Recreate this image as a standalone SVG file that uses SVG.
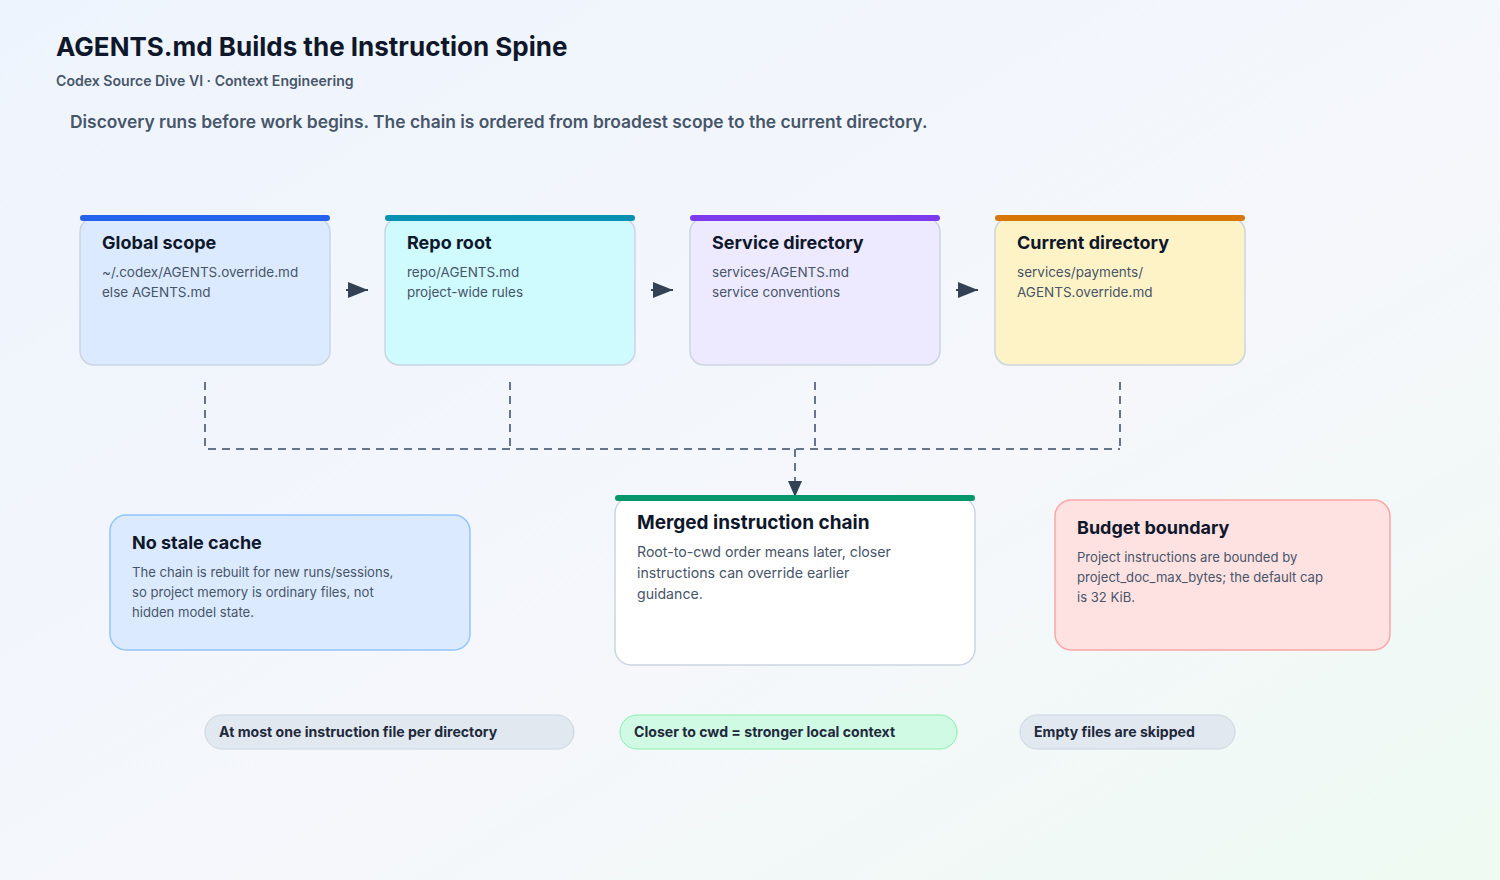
<svg xmlns="http://www.w3.org/2000/svg" width="1500" height="880" viewBox="0 0 1500 880">
<defs>
<linearGradient id="bg" x1="0" y1="0" x2="1" y2="1">
<stop offset="0" stop-color="#eef4fd"/>
<stop offset="0.6" stop-color="#f5f7fb"/>
<stop offset="1" stop-color="#eefaf2"/>
</linearGradient>
<marker id="ah2" viewBox="0 0 20 16" refX="20" refY="8" markerWidth="20" markerHeight="16" markerUnits="userSpaceOnUse" orient="auto">
<path d="M0,0 L20,8 L0,16 z" fill="#334155"/>
</marker>
<marker id="ah3" viewBox="0 0 16 14" refX="16" refY="7" markerWidth="16" markerHeight="14" markerUnits="userSpaceOnUse" orient="auto">
<path d="M0,0 L16,7 L0,14 z" fill="#334155"/>
</marker>
</defs>
<style>
text{font-family:Inter,"Liberation Sans",sans-serif}
.h1{font-size:26px;font-weight:700;fill:#0f172a}
.sub{font-size:14.1px;font-weight:600;fill:#475569}
.intro{font-size:17.4px;font-weight:600;fill:#475569}
.card{stroke:#cbd5e1;stroke-width:1.5}
.t{font-size:18px;font-weight:700;fill:#0f172a}
.b{font-size:13.5px;fill:#475569}
.b3{font-size:13.1px;fill:#475569}
.t2{font-size:19px;font-weight:700;fill:#0f172a}
.b2{font-size:14.15px;fill:#475569}
.pill{font-size:14.1px;font-weight:700;fill:#1e293b}
.dash{fill:none;stroke:#64748b;stroke-width:2;stroke-dasharray:8 6}
</style>
<rect width="1500" height="880" fill="url(#bg)"/>
<text class="h1" x="56" y="56">AGENTS.md Builds the Instruction Spine</text>
<text class="sub" x="56" y="86">Codex Source Dive VI · Context Engineering</text>
<text class="intro" x="70" y="128">Discovery runs before work begins. The chain is ordered from broadest scope to the current directory.</text>

<g id="connectors">
<path class="dash" d="M205,382 V449 H1120 M510,382 V449 M815,382 V449 M1120,382 V449"/>
<path class="dash" d="M795,449 V497" marker-end="url(#ah3)"/>
<path d="M346,290 H368" stroke="#334155" stroke-width="2" marker-end="url(#ah2)"/>
<path d="M651,290 H673" stroke="#334155" stroke-width="2" marker-end="url(#ah2)"/>
<path d="M956,290 H978" stroke="#334155" stroke-width="2" marker-end="url(#ah2)"/>
</g>

<g id="global">
<rect class="card" x="80" y="218" width="250" height="147" rx="14" fill="#dbeafe"/>
<rect x="80" y="215" width="250" height="6" rx="3" fill="#2563eb"/>
<text class="t" x="102" y="249">Global scope</text>
<text class="b" x="102" y="277">~/.codex/AGENTS.override.md</text>
<text class="b" x="102" y="297">else AGENTS.md</text>
</g>
<g id="repo">
<rect class="card" x="385" y="218" width="250" height="147" rx="14" fill="#cffafe"/>
<rect x="385" y="215" width="250" height="6" rx="3" fill="#0891b2"/>
<text class="t" x="407" y="249">Repo root</text>
<text class="b" x="407" y="277">repo/AGENTS.md</text>
<text class="b" x="407" y="297">project-wide rules</text>
</g>
<g id="service">
<rect class="card" x="690" y="218" width="250" height="147" rx="14" fill="#ede9fe"/>
<rect x="690" y="215" width="250" height="6" rx="3" fill="#7c3aed"/>
<text class="t" x="712" y="249">Service directory</text>
<text class="b" x="712" y="277">services/AGENTS.md</text>
<text class="b" x="712" y="297">service conventions</text>
</g>
<g id="current">
<rect class="card" x="995" y="218" width="250" height="147" rx="14" fill="#fef3c7"/>
<rect x="995" y="215" width="250" height="6" rx="3" fill="#d97706"/>
<text class="t" x="1017" y="249">Current directory</text>
<text class="b" x="1017" y="277">services/payments/</text>
<text class="b" x="1017" y="297">AGENTS.override.md</text>
</g>

<g id="merged">
<rect class="card" x="615" y="497" width="360" height="168" rx="16" fill="#ffffff"/>
<rect x="615" y="495" width="360" height="6" rx="3" fill="#059669"/>
<text class="t2" x="637" y="529">Merged instruction chain</text>
<text class="b2" x="637" y="557">Root-to-cwd order means later, closer</text>
<text class="b2" x="637" y="578">instructions can override earlier</text>
<text class="b2" x="637" y="599">guidance.</text>
</g>
<g id="nostale">
<rect x="110" y="515" width="360" height="135" rx="16" fill="#dbeafe" stroke="#93c5fd" stroke-width="1.5"/>
<text class="t" x="132" y="549">No stale cache</text>
<text class="b3" x="132" y="577">The chain is rebuilt for new runs/sessions,</text>
<text class="b3" x="132" y="597">so project memory is ordinary files, not</text>
<text class="b3" x="132" y="617">hidden model state.</text>
</g>
<g id="budget">
<rect x="1055" y="500" width="335" height="150" rx="16" fill="#fee2e2" stroke="#fca5a5" stroke-width="1.5"/>
<text class="t" x="1077" y="534">Budget boundary</text>
<text class="b3" x="1077" y="562">Project instructions are bounded by</text>
<text class="b3" x="1077" y="582">project_doc_max_bytes; the default cap</text>
<text class="b3" x="1077" y="602">is 32 KiB.</text>
</g>

<g id="pill1">
<rect x="205" y="715" width="369" height="34" rx="17" fill="#e2e8f0" stroke="#cbd5e1"/>
<text class="pill" x="219" y="737">At most one instruction file per directory</text>
</g>
<g id="pill2">
<rect x="620" y="715" width="337" height="34" rx="17" fill="#d1fae5" stroke="#86efac"/>
<text class="pill" x="634" y="737">Closer to cwd = stronger local context</text>
</g>
<g id="pill3">
<rect x="1020" y="715" width="215" height="34" rx="17" fill="#e2e8f0" stroke="#cbd5e1"/>
<text class="pill" x="1034" y="737">Empty files are skipped</text>
</g>
</svg>
